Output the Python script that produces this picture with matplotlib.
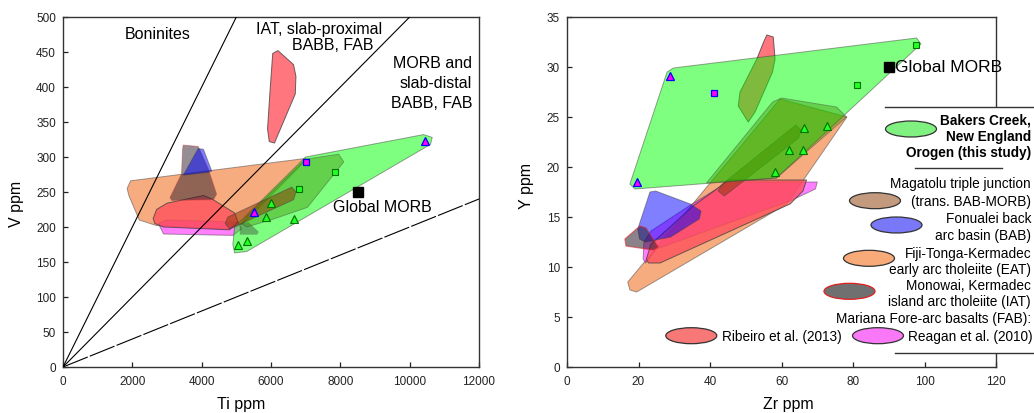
import matplotlib
matplotlib.use("Agg")
import matplotlib.pyplot as plt
from matplotlib.patches import Polygon, Ellipse, Rectangle

plt.rcParams['font.family'] = ['Liberation Sans', 'DejaVu Sans']

# ---------------- data: left panel (Ti ppm vs V ppm) ----------------
ti_v_ratios = [10, 20, 50]
ti_max = 12000

bakers_l = [(4900, 175), (4950, 200), (7000, 300), (10400, 332), (10650, 328),
            (10600, 318), (5300, 165), (4950, 163)]
bakers2_l = [(5150, 205), (5300, 215), (7000, 297), (7950, 304), (8100, 293),
             (7050, 228), (6050, 211), (5300, 200)]
orange_l = [(1850, 255), (1950, 266), (7000, 298), (6900, 290), (5200, 205),
            (4800, 197), (2700, 202), (2200, 210), (1900, 245)]
magenta_l = [(2750, 205), (2900, 190), (4900, 188), (5150, 197), (5050, 207), (3000, 210)]
red_l = [(2600, 212), (2700, 225), (3000, 234), (4050, 245), (4300, 240), (4950, 220),
         (5050, 207), (4800, 196), (2900, 200), (2650, 205)]
red_up_l = [(6050, 448), (6200, 452), (6650, 432), (6720, 415), (6700, 390),
            (6100, 320), (5950, 322), (5900, 340), (5980, 400)]
gray_l = [(3450, 311), (3470, 317), (3900, 315), (4190, 283), (4430, 247),
          (4340, 239), (3135, 238), (3087, 242), (3420, 276)]
gray2_l = [(5100, 205), (5350, 207), (5650, 193), (5600, 189), (5100, 189)]
blue_l = [(3470, 274), (3900, 312), (4050, 311), (4290, 280), (4190, 278)]
brown_l = [(4680, 205), (4750, 214), (6600, 257), (6720, 250), (6650, 239), (4800, 197)]

tri_ti = [5050, 5300, 5850, 6000, 6650]
tri_v = [175, 180, 215, 235, 212]
ptri_ti = [5500, 10450]
ptri_v = [222, 323]
sq_ti = [6800, 7850]
sq_v = [255, 278]
msq_ti = [7000]
msq_v = [293]
morb_ti, morb_v = 8500, 250

# ---------------- data: right panel (Zr ppm vs Y ppm) ----------------
bakers_r = [(17.6, 18.3), (28.0, 29.5), (29.8, 29.9), (97.8, 32.9), (99.0, 32.3),
            (58.6, 18.9), (19.0, 17.8)]
bakers2_r = [(39.0, 18.4), (57.5, 26.5), (60.0, 26.9), (75.4, 26.0), (78.2, 25.0), (58.6, 18.9)]
orange_r = [(17.0, 8.5), (17.6, 7.7), (19.5, 7.5), (61.5, 16.3), (78.3, 25.0), (59.6, 26.8)]
magenta_r = [(21.3, 10.8), (21.5, 12.5), (23.5, 13.6), (35.0, 16.3), (45.0, 18.5),
             (70.0, 18.5), (69.5, 17.8), (63.0, 16.7), (25.0, 11.8), (22.0, 10.4)]
red_r = [(22.2, 10.8), (23.5, 12.3), (35.3, 16.1), (41.9, 17.8), (45.0, 18.7),
         (67.0, 18.7), (66.0, 17.6), (62.4, 16.3), (26.0, 10.4), (22.8, 10.4)]
red_up_r = [(55.9, 33.2), (57.7, 33.0), (58.2, 30.8), (57.5, 29.5), (52.6, 25.5),
            (50.7, 24.5), (47.9, 26.1), (48.4, 27.5), (53.1, 30.8), (55.0, 32.5)]
blue_r = [(19.8, 13.8), (23.2, 17.5), (24.8, 17.6), (34.5, 16.3), (37.5, 15.6),
          (37.0, 14.8), (29.0, 13.0), (22.0, 12.5), (20.3, 12.8)]
gray_r = [(16.2, 12.8), (20.4, 14.1), (22.1, 13.9), (25.5, 12.0), (24.1, 11.7), (16.5, 12.1)]
brown_r = [(42.3, 17.6), (43.5, 18.3), (64.0, 24.2), (65.5, 23.7), (64.8, 22.9), (44.0, 17.1)]

tri_zr = [66.3, 72.8, 62.2, 65.9, 58.1]
tri_y = [23.9, 24.1, 21.7, 21.7, 19.5]
ptri_zr = [28.8, 19.5]
ptri_y = [29.1, 18.5]
sq_zr = [81.2, 97.6]
sq_y = [28.2, 32.2]
msq_zr = [41.2]
msq_y = [27.4]
morb_zr, morb_y = 90, 30

legend_labels = [
    "Magatolu triple junction\n(trans. BAB-MORB)",
    "Fonualei back\narc basin (BAB)",
    "Fiji-Tonga-Kermadec\nearly arc tholeiite (EAT)",
    "Monowai, Kermadec\nisland arc tholeiite (IAT)",
]

# ---------------- styles ----------------
C_GREEN = '#00FF00'
C_DKGREEN = '#3C8C00'
C_ORANGE = '#F05A00'
C_MAG = '#FF00FF'
C_RED = '#FF4F5A'
C_BLUE = '#0000FF'
C_GRAY = '#2A1E2A'
C_BROWN = '#8C3200'

fig = plt.figure(figsize=(10.34, 4.14), dpi=100)
axL = fig.add_axes([63 / 1034, 1 - 368 / 414, 416 / 1034, 350 / 414])
axR = fig.add_axes([567 / 1034, 1 - 368 / 414, 429 / 1034, 350 / 414])


def field(ax, pts, color, alpha=0.5, edge='#404040', z=2, lw=0.7):
    p = Polygon(pts, closed=True, facecolor=color, alpha=alpha, edgecolor=edge,
                lw=lw, joinstyle='round', zorder=z)
    ax.add_patch(p)


# left panel
field(axL, orange_l, C_ORANGE, 0.5, z=1)
field(axL, magenta_l, C_MAG, 0.5, z=2)
field(axL, red_l, C_RED, 0.78, z=3)
field(axL, gray_l, C_GRAY, 0.5, edge='#C04040', z=4)
field(axL, blue_l, C_BLUE, 0.5, z=5)
field(axL, red_up_l, C_RED, 0.78, z=3)
field(axL, bakers_l, C_GREEN, 0.5, z=6)
field(axL, gray2_l, C_GRAY, 0.35, edge='none', z=6.5)
field(axL, bakers2_l, C_DKGREEN, 0.4, z=7)
field(axL, brown_l, C_BROWN, 0.5, z=7.5)

for r in ti_v_ratios:
    ls = (0, (24, 2)) if r == 50 else '-'
    axL.plot([0, ti_max], [0, ti_max / r], color='black', lw=0.8, ls=ls, zorder=8)

kw_g = dict(ls='none', mfc='#22FF22', mec='#007000', mew=0.8, zorder=10)
kw_p = dict(ls='none', mfc='#FF00FF', mec='#0000FF', mew=0.9, zorder=10)
axL.plot(tri_ti, tri_v, marker='^', ms=5.5, **kw_g)
axL.plot(sq_ti, sq_v, marker='s', ms=4.5, **kw_g)
axL.plot(ptri_ti, ptri_v, marker='^', ms=6, **kw_p)
axL.plot(msq_ti, msq_v, marker='s', ms=5, **kw_p)
axL.plot([morb_ti], [morb_v], marker='s', ms=6.5, color='black', ls='none', zorder=10)
axL.text(7780, 229, 'Global MORB', fontsize=11.5, ha='left', va='center', zorder=11)

axL.text(1790, 476, 'Boninites', fontsize=11.5, ha='left', va='center')
axL.text(7380, 483, 'IAT, slab-proximal', fontsize=11.5, ha='center', va='center')
axL.text(7780, 461, 'BABB, FAB', fontsize=11.5, ha='center', va='center')
axL.text(11800, 435, 'MORB and', fontsize=11.5, ha='right', va='center')
axL.text(11800, 406, 'slab-distal', fontsize=11.5, ha='right', va='center')
axL.text(11800, 378, 'BABB, FAB', fontsize=11.5, ha='right', va='center')

axL.set_xlim(0, 12000)
axL.set_ylim(0, 500)
axL.set_xticks(range(0, 12001, 2000))
axL.set_yticks(range(0, 501, 50))
axL.set_xlabel('Ti ppm', fontsize=11.5)
axL.set_ylabel('V ppm', fontsize=11.5)
axL.xaxis.set_label_coords(0.428, -0.083)
axL.yaxis.set_label_coords(-0.093, 0.47)

# right panel
field(axR, orange_r, C_ORANGE, 0.5, z=1)
field(axR, magenta_r, C_MAG, 0.5, z=2)
field(axR, red_r, C_RED, 0.78, z=3)
field(axR, blue_r, C_BLUE, 0.5, z=4)
field(axR, gray_r, C_GRAY, 0.55, edge='#E02020', z=5, lw=0.9)
field(axR, brown_r, C_BROWN, 0.5, z=5.5)
field(axR, red_up_r, C_RED, 0.78, z=3)
field(axR, bakers_r, C_GREEN, 0.5, z=6)
field(axR, bakers2_r, C_DKGREEN, 0.4, z=7)

axR.plot(tri_zr, tri_y, marker='^', ms=5.5, **kw_g)
axR.plot(sq_zr, sq_y, marker='s', ms=4.5, **kw_g)
axR.plot(ptri_zr, ptri_y, marker='^', ms=6, **kw_p)
axR.plot(msq_zr, msq_y, marker='s', ms=5, **kw_p)
axR.plot([morb_zr], [morb_y], marker='s', ms=6.5, color='black', ls='none', zorder=10)
axR.text(91.8, 30, 'Global MORB', fontsize=12.5, ha='left', va='center', zorder=11)

axR.set_xlim(0, 120)
axR.set_ylim(0, 35)
axR.set_xticks(range(0, 121, 20))
axR.set_yticks(range(0, 36, 5))
axR.set_xlabel('Zr ppm', fontsize=11.5)
axR.set_ylabel('Y ppm', fontsize=11.5)
axR.xaxis.set_label_coords(0.515, -0.083)
axR.yaxis.set_label_coords(-0.077, 0.52)

for ax in (axL, axR):
    for s in ax.spines.values():
        s.set_linewidth(1.0)
        s.set_color('#333333')
    ax.tick_params(direction='in', length=3.5, width=0.9, labelsize=8.5, pad=5,
                   colors='#222222')
    ax.tick_params(axis='x', pad=6)

# ---------------- legend (figure pixel overlay) ----------------
ov = fig.add_axes([0, 0, 1, 1], zorder=20)
ov.set_xlim(0, 1034)
ov.set_ylim(414, 0)
ov.axis('off')

ov.add_patch(Rectangle((888, 108), 160, 246, facecolor='white', edgecolor='none'))
ov.plot([885, 1034], [108, 108], color='#333333', lw=1.0)
ov.plot([895, 1034], [354, 354], color='#333333', lw=1.0)
ov.plot([915, 1002], [169, 169], color='#333333', lw=1.0)

TX = 1031
fs = 9.8
ell_w, ell_h = 51, 16


def ell(x, y, fc, ec='#333333'):
    ov.add_patch(Ellipse((x, y), ell_w, ell_h, facecolor=fc, edgecolor=ec, lw=0.9))


ell(911, 130, '#80F080')
for yy, t in zip([121, 137, 153], ["Bakers Creek,", "New England", "Orogen (this study)"]):
    ov.text(TX, yy, t, fontsize=fs, fontweight='bold', ha='right', va='center')

ell_cfg = [(875, 201.7, '#C39A7E', '#333333'), (896.5, 226, '#7878F8', '#333333'),
           (869, 259.3, '#F8AA78', '#333333'), (849.5, 292.3, '#707070', '#E02020')]
text_y = [(184.3, 201.7), (219, 235.7), (254, 270), (285.7, 301.7)]
for lab, (ex, ey, fc, ec), (y1, y2) in zip(legend_labels, ell_cfg, text_y):
    ell(ex, ey, fc, ec)
    l1, l2 = lab.split('\n')
    ov.text(TX, y1, l1, fontsize=fs, ha='right', va='center')
    ov.text(TX, y2, l2, fontsize=fs, ha='right', va='center')

ov.text(TX, 319, 'Mariana Fore-arc basalts (FAB):', fontsize=fs, ha='right', va='center')
ell(691.3, 336.7, '#F87878')
ov.text(721.7, 336.7, 'Ribeiro et al. (2013)', fontsize=fs, ha='left', va='center')
ell(878, 336.7, '#F878F8')
ov.text(908.3, 336.7, 'Reagan et al. (2010)', fontsize=fs, ha='left', va='center')

fig.savefig('out.png', dpi=100)
